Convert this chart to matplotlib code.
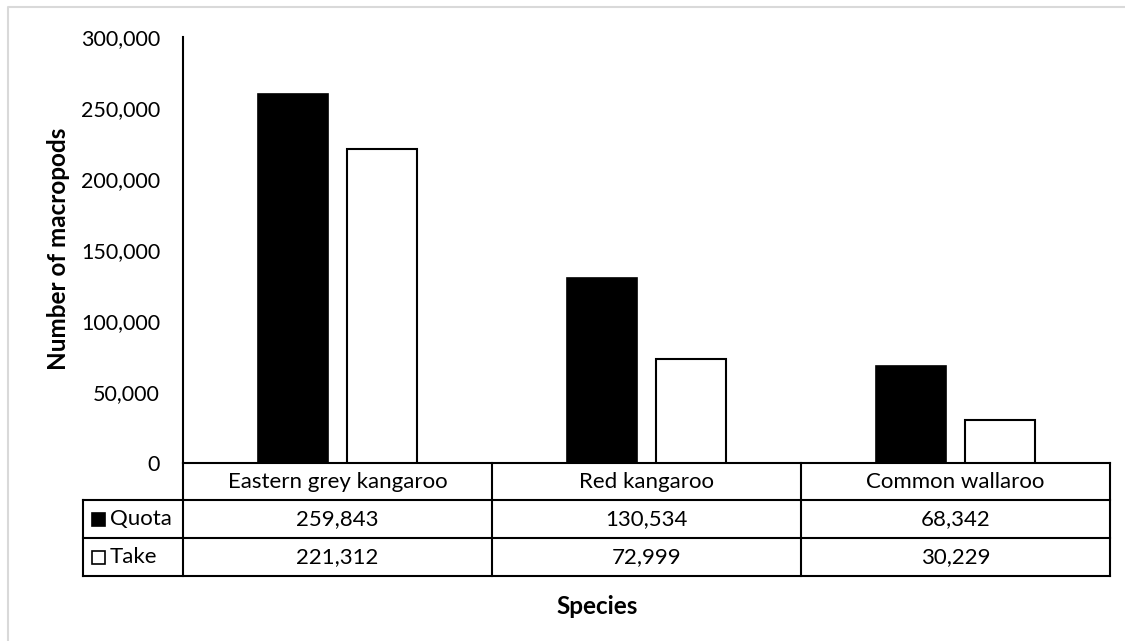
import matplotlib
matplotlib.use("Agg")
import matplotlib.pyplot as plt
from matplotlib.lines import Line2D
from matplotlib.patches import Rectangle
from matplotlib.ticker import FuncFormatter

categories = ["Eastern grey kangaroo", "Red kangaroo", "Common wallaroo"]
series_names = ["Quota", "Take"]
quota = [259843, 130534, 68342]
take = [221312, 72999, 30229]
y_ticks = [0, 50000, 100000, 150000, 200000, 250000, 300000]

plt.rcParams['font.family'] = ['Lato', 'DejaVu Sans']

W, H = 1125, 641
fig = plt.figure(figsize=(W / 100, H / 100), dpi=100)

def fx(x):
    return x / W

def fy(y):
    return 1 - y / H

# outer border (only top and left visible)
fig.add_artist(Line2D([fx(8), fx(8), fx(W + 5)], [fy(H + 5), fy(7), fy(7)],
                      transform=fig.transFigure, color='#d9d9d9', lw=1.5))

ax_l, ax_r, ax_t, ax_b = 183, 1110, 37, 463
ax = fig.add_axes([fx(ax_l), fy(ax_b), fx(ax_r) - fx(ax_l), fy(ax_t) - fy(ax_b)])

xs = list(range(len(categories)))
bw = 0.227
off = 0.143
ax.bar([x - off for x in xs], quota, width=bw, color='black', edgecolor='black', lw=1.2, zorder=3)
ax.bar([x + off for x in xs], take, width=bw, color='white', edgecolor='black', lw=1.5, zorder=3)

ax.set_xlim(-0.5, len(categories) - 0.5)
ax.set_ylim(0, 300000)
ax.set_yticks(y_ticks)
ax.yaxis.set_major_formatter(FuncFormatter(lambda v, p: f"{int(v):,}"))
ax.tick_params(axis='y', length=0, pad=16.5, labelsize=15.5)
ax.set_xticks([])
for s in ['top', 'right']:
    ax.spines[s].set_visible(False)
ax.spines['left'].set_linewidth(1.5)
ax.spines['bottom'].set_linewidth(1.5)

fig.text(fx(59), fy(249), "Number of macropods", rotation=90, ha='center', va='center',
         fontsize=17.5, fontweight='bold')

# data table
col_edges = [ax_l + (ax_r - ax_l) * i / len(categories) for i in range(len(categories) + 1)]
row_y = [463, 500, 538, 576]
left_col = 83
lw = 1.5

def line(x0, y0, x1, y1):
    fig.add_artist(Line2D([fx(x0), fx(x1)], [fy(y0), fy(y1)], transform=fig.transFigure,
                          color='black', lw=lw, solid_capstyle='projecting'))

for y in row_y[1:]:
    line(left_col, y, ax_r, y)
for x in col_edges:
    line(x, row_y[0], x, row_y[-1])
line(left_col, row_y[1], left_col, row_y[-1])

fs = 16
for i, c in enumerate(categories):
    cx = (col_edges[i] + col_edges[i + 1]) / 2
    fig.text(fx(cx), fy((row_y[0] + row_y[1]) / 2), c, ha='center', va='center', fontsize=fs)
    fig.text(fx(cx), fy((row_y[1] + row_y[2]) / 2), f"{quota[i]:,}", ha='center', va='center', fontsize=fs)
    fig.text(fx(cx), fy((row_y[2] + row_y[3]) / 2), f"{take[i]:,}", ha='center', va='center', fontsize=fs)

# legend keys in table
for r, (name, fc) in enumerate(zip(series_names, ['black', 'white'])):
    yc = (row_y[r + 1] + row_y[r + 2]) / 2
    fig.add_artist(Rectangle((fx(92), fy(yc + 6.5)), fx(105) - fx(92), fy(yc - 6.5) - fy(yc + 6.5),
                             transform=fig.transFigure, facecolor=fc, edgecolor='black', lw=1.2))
    fig.text(fx(110), fy(yc), name, ha='left', va='center', fontsize=fs)

fig.text(fx(597), fy(607), "Species", ha='center', va='center',
         fontsize=17.5, fontweight='bold')

fig.savefig("out.png", dpi=100)
